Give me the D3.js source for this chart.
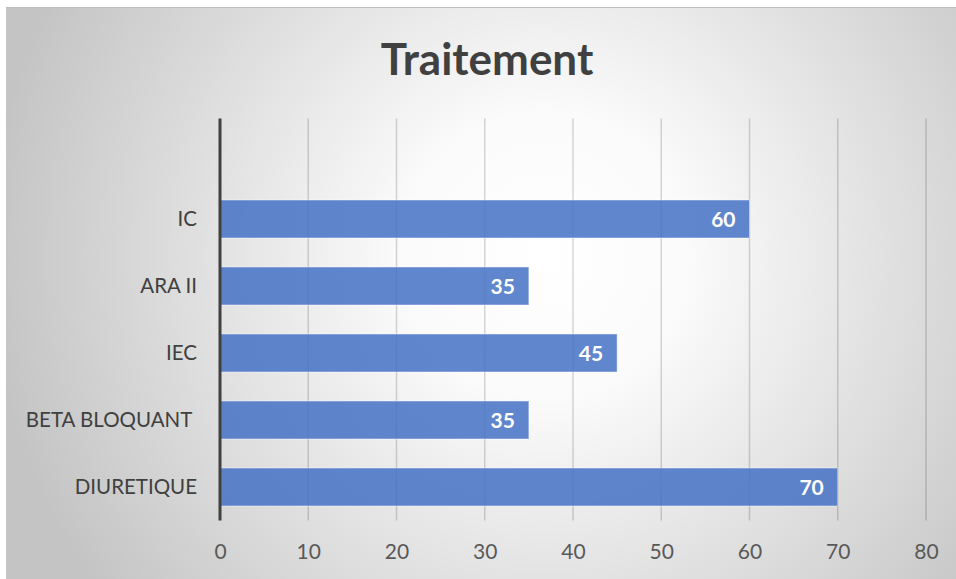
<!DOCTYPE html>
<html>
<head>
<meta charset="utf-8">
<script src="https://cdn.jsdelivr.net/npm/d3@7"></script>
<style>
  html, body { margin: 0; padding: 0; background: #ffffff; }
  svg { display: block; }
</style>
</head>
<body>
<svg id="chart" width="956" height="579"></svg>
<script>
// Treatments, listed bottom to top; the top slot of the category axis is left blank
const categories = ["DIURETIQUE", "BETA BLOQUANT ", "IEC", "ARA II", "IC", " "];
const values = [70, 35, 45, 35, 60, null];
const xTicks = [0, 10, 20, 30, 40, 50, 60, 70, 80];
const title = "Traitement";

const W = 956, H = 579;
const svg = d3.select("#chart");
const font = "Lato, 'Open Sans', sans-serif";

// Chart area background: soft radial gradient, light at the centre
const defs = svg.append("defs");
const grad = defs.append("radialGradient")
  .attr("id", "bg").attr("gradientUnits", "userSpaceOnUse")
  .attr("cx", 545).attr("cy", 255).attr("r", 560);
grad.append("stop").attr("offset", "0%").attr("stop-color", "#ffffff");
grad.append("stop").attr("offset", "25%").attr("stop-color", "#fbfbfb");
grad.append("stop").attr("offset", "100%").attr("stop-color", "#c4c4c4");

svg.append("rect")
  .attr("x", 6).attr("y", 7).attr("width", W - 6).attr("height", H - 7)
  .attr("fill", "url(#bg)");
svg.append("line")
  .attr("x1", 6).attr("x2", W).attr("y1", 7.5).attr("y2", 7.5)
  .attr("stroke", "#bdbdbd").attr("stroke-width", 1);

// Title
svg.append("text")
  .attr("x", 487).attr("y", 75)
  .attr("text-anchor", "middle")
  .attr("font-family", font).attr("font-weight", 700)
  .attr("font-size", 44).attr("fill", "#404040")
  .text(title);

const plot = { left: 220, right: 926, top: 118.5, bottom: 520.5 };

const x = d3.scaleLinear().domain([0, 80]).range([plot.left, plot.right]);
const y = d3.scaleBand()
  .domain(categories.map((c, i) => i))
  .range([plot.bottom, plot.top])
  .paddingInner(0.433).paddingOuter(0.2165);

// Vertical gridlines
svg.append("g").selectAll("line")
  .data(xTicks.filter(t => t > 0))
  .join("line")
  .attr("x1", d => x(d)).attr("x2", d => x(d))
  .attr("y1", plot.top).attr("y2", plot.bottom)
  .attr("stroke", "rgba(0,0,0,0.16)").attr("stroke-width", 1.5);

// Bars
const data = categories.map((c, i) => ({ i, c, v: values[i] })).filter(d => d.v != null);
svg.append("g").selectAll("rect")
  .data(data)
  .join("rect")
  .attr("x", x(0))
  .attr("y", d => y(d.i))
  .attr("width", d => x(d.v) - x(0))
  .attr("height", y.bandwidth())
  .attr("fill", "#4472c4").attr("fill-opacity", 0.85)
  .attr("stroke", "rgba(255,255,255,0.45)").attr("stroke-width", 1);

// Value labels inside bar ends
svg.append("g").selectAll("text")
  .data(data)
  .join("text")
  .attr("x", d => x(d.v) - 14)
  .attr("y", d => y(d.i) + y.bandwidth() / 2)
  .attr("dy", "0.36em")
  .attr("text-anchor", "end")
  .attr("font-family", font).attr("font-weight", 700)
  .attr("font-size", 21).attr("fill", "#ffffff")
  .text(d => d.v);

// Category axis
const yAxis = d3.axisLeft(y).tickSize(0).tickPadding(23)
  .tickFormat(i => categories[i]);
const gy = svg.append("g").attr("transform", `translate(${plot.left},0)`).call(yAxis);
gy.select(".domain").remove();
gy.selectAll("text")
  .attr("font-family", font).attr("font-size", 20.5)
  .attr("fill", "#404040").style("white-space", "pre").attr("xml:space", "preserve");
svg.append("line")
  .attr("x1", plot.left).attr("x2", plot.left)
  .attr("y1", plot.top).attr("y2", plot.bottom)
  .attr("stroke", "#404040").attr("stroke-width", 3);

// Value axis labels
const xAxis = d3.axisBottom(x).tickValues(xTicks).tickSize(0).tickPadding(24);
const gx = svg.append("g").attr("transform", `translate(0,${plot.bottom})`).call(xAxis);
gx.select(".domain").remove();
gx.selectAll("text")
  .attr("font-family", font).attr("font-size", 21).attr("fill", "#595959");
</script>
</body>
</html>
